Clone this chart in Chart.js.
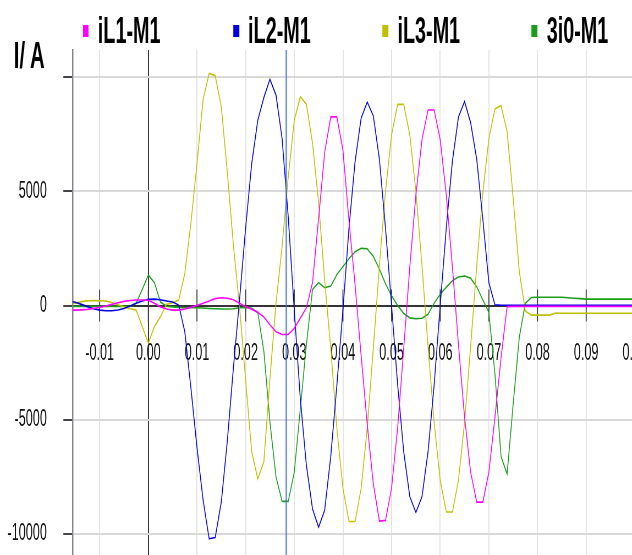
<!DOCTYPE html>
<html>
<head>
<meta charset="utf-8">
<script src="https://cdn.jsdelivr.net/npm/chart.js@4.4.1/dist/chart.umd.min.js"></script>
<style>
html,body{margin:0;padding:0;background:#fff;overflow:hidden;width:632px;height:555px;}
#wrap{position:absolute;left:0;top:0;width:1200px;height:555px;transform:scaleX(0.55);transform-origin:0 0;}
#c{position:absolute;left:0;top:0;}
.lgt{position:absolute;top:13px;font:bold 36px "Liberation Sans",Arial,sans-serif;line-height:36px;color:#000;white-space:nowrap;}
.lgs{position:absolute;top:25px;width:11px;height:12px;}
#unit{position:absolute;left:25px;top:37px;font:bold 37px "Liberation Sans",Arial,sans-serif;line-height:37px;color:#000;white-space:nowrap;}
</style>
</head>
<body>
<div id="wrap">
  <canvas id="c" width="1200" height="555"></canvas>
  <div id="unit"></div>
</div>
<script>
// sample times (s)
const timeS = [-0.01625,-0.015,-0.01375,-0.0125,-0.01125,-0.01,-0.00875,-0.0075,-0.00625,-0.005,-0.00375,-0.0025,-0.00125,0,
0.00125,0.0025,0.00375,0.005,0.00625,0.0075,0.00875,0.01,0.01125,0.0125,
0.01375,0.015,0.01625,0.0175,0.01875,0.02,0.02125,0.0225,0.02375,0.025,
0.02625,0.0275,0.02875,0.03,0.03125,0.0325,0.03375,0.035,0.03625,0.0375,
0.03875,0.04,0.04125,0.0425,0.04375,0.045,0.04625,0.0475,0.04875,0.05,
0.05125,0.0525,0.05375,0.055,0.05625,0.0575,0.05875,0.06,0.06125,0.0625,
0.06375,0.065,0.06625,0.0675,0.06875,0.07,0.07125,0.0725,0.07375,0.075,
0.07625,0.0775,0.07875,0.08,0.08125,0.0825,0.08375,0.085,0.08625,0.0875,
0.08875,0.09,0.09125,0.0925,0.09375,0.095,0.09625,0.0975,0.09875,0.1,
0.10125,0.1025,0.10375,0.105];

// iL1-M1 (A)
const iL1 = [-200,-200,-190,-170,-130,-80,-20,50,120,180,220,240,240,230,
100,-60,-150,-200,-200,-150,-80,0,100,200,
300,340,320,250,100,-50,-160,-300,-500,-850,
-1150,-1270,-1270,-1000,-550,-100,1000,3800,6700,8250,
8250,6800,3700,900,-2200,-5200,-7800,-9430,-9400,-7990,
-5340,-1870,1700,4840,7250,8550,8550,7250,4840,1700,
-1710,-4870,-7290,-8600,-8600,-7300,-4900,-2300,-50,-40,
-40,-40,-40,-40,-40,-40,-40,-40,-40,-40,
-40,-40,-40,-40,-40,-40,-40,-40,-40,-40,
-40,-40,-40,-40];

// iL2-M1 (A)
const iL2 = [200,140,50,-50,-140,-200,-230,-230,-200,-130,-20,100,200,270,
280,250,200,150,20,-1150,-3600,-6200,-8500,-10200,
-10150,-8600,-5900,-2700,250,3400,6200,8100,9100,9900,
9200,7300,3900,-200,-4100,-7000,-8900,-9700,-8950,-6600,
-3500,-200,3400,6300,8200,8900,8300,6400,3400,0,
-3470,-6400,-8360,-9050,-8360,-6400,-3470,0,3410,6310,
8240,8920,8000,6400,3800,1000,30,10,10,10,
10,10,10,10,10,10,10,10,10,10,
10,10,10,10,10,10,10,10,10,10,
10,10,10,10];

// iL3-M1 (A)
const iL3 = [80,100,170,210,220,210,200,130,30,-60,-140,-200,-920,-1650,
-920,-490,60,120,240,1400,3600,6200,9000,10150,
10050,8700,5800,2600,-50,-3260,-6390,-7590,-6830,-3200,
100,2600,5600,8100,9130,8800,7100,4500,1100,-1880,
-5350,-8000,-9450,-9450,-8000,-5350,-1880,1750,4990,7460,
8800,8800,7460,4990,1750,-1800,-5110,-7650,-9030,-9030,
-7650,-5110,-1800,1720,4900,7300,8600,8750,7600,4700,
1500,-250,-420,-420,-420,-420,-330,-340,-340,-340,
-340,-340,-340,-340,-340,-340,-340,-340,-340,-340,
-340,-340,-340,-340];

// 3i0-M1 (A)
const i3o = [-40,-40,-40,-40,-40,-40,-40,-40,-40,-40,-40,100,700,1330,
1000,150,-30,-60,-80,-100,-100,-100,-110,-130,
-140,-150,-150,-140,-100,-80,-120,-300,-2000,-5100,
-7500,-8570,-8570,-7300,-4500,-1700,700,1000,780,850,
1350,1700,2050,2350,2500,2480,2150,1600,950,430,
0,-350,-540,-580,-560,-380,100,500,800,1080,
1250,1290,1190,820,250,-300,-3000,-6600,-7370,-4300,
-1400,100,350,360,360,360,360,360,340,320,
300,280,280,280,280,280,280,280,280,280,
280,280,280,280];

const seriesNames = ['iL1-M1','iL2-M1','iL3-M1','3i0-M1'];
const seriesColors = ['#ff00ff','#0000e6','#c0c000','#1a9e1a'];
const xTickValues = [-0.01,0,0.01,0.02,0.03,0.04,0.05,0.06,0.07,0.08,0.09,0.10];
const xTickLabels = ['-0.01','0.00','0.01','0.02','0.03','0.04','0.05','0.06','0.07','0.08','0.09','0.10'];
const yTickValues = [-10000,-5000,0,5000,10000];
const yTickLabels = ['-10000','-5000','0','5000',''];
const cursorTime = 0.02834;
const yUnit = 'I/ A';

// legend (HTML text)
const wrap = document.getElementById('wrap');
const lgX = [150.4, 423.6, 695.1, 966.4];
seriesNames.forEach((n, i) => {
  const s = document.createElement('div');
  s.className = 'lgs'; s.style.left = lgX[i] + 'px'; s.style.background = seriesColors[i];
  wrap.appendChild(s);
  const t = document.createElement('div');
  t.className = 'lgt'; t.style.left = (lgX[i] + 27.5) + 'px'; t.textContent = n;
  wrap.appendChild(t);
});
document.getElementById('unit').textContent = yUnit;

const decor = {
  id: 'decor',
  beforeDatasetsDraw(chart) {
    const {ctx, scales: {x, y}} = chart;
    const y0 = y.getPixelForValue(0);
    ctx.save();
    ctx.strokeStyle = '#3a3a3a';
    ctx.lineWidth = 1.8;
    xTickValues.forEach(v => {
      const px = x.getPixelForValue(v);
      ctx.beginPath(); ctx.moveTo(px, y0 - 16); ctx.lineTo(px, y0 + 16); ctx.stroke();
    });
    ctx.restore();
  },
  afterDatasetsDraw(chart) {
    const {ctx, chartArea, scales: {x}} = chart;
    const px = x.getPixelForValue(cursorTime);
    ctx.save();
    ctx.strokeStyle = '#3c6cff';
    ctx.lineWidth = 2;
    ctx.beginPath(); ctx.moveTo(px, chartArea.top); ctx.lineTo(px, chartArea.bottom); ctx.stroke();
    ctx.restore();
  }
};

const toPts = arr => arr.map((v, i) => ({x: timeS[i], y: v}));

new Chart(document.getElementById('c'), {
  type: 'line',
  data: {
    datasets: [iL1, iL2, iL3, i3o].map((arr, i) => ({
      label: seriesNames[i], data: toPts(arr),
      borderColor: seriesColors[i], backgroundColor: seriesColors[i],
      borderWidth: 1.6, pointRadius: 0, tension: 0, fill: false
    }))
  },
  options: {
    responsive: false, animation: false, devicePixelRatio: 1,
    layout: {padding: {top: 50, left: 0, right: 0, bottom: 0}},
    plugins: {legend: {display: false}, tooltip: {enabled: false}},
    scales: {
      x: {
        type: 'linear', position: {y: 0}, bounds: 'data',
        min: -0.01554, max: 0.10518,
        afterBuildTicks: s => { s.ticks = xTickValues.map(v => ({value: v})); },
        afterFit: s => { s.paddingLeft = 0; s.paddingRight = 0; s.paddingTop = 0; s.paddingBottom = 0; },
        grid: {color: c => (c.tick && c.tick.value === 0) ? '#222' : '#e0e0e0', lineWidth: 1.8, drawTicks: false},
        border: {display: true, color: '#333', width: 2},
        ticks: {autoSkip: false, maxRotation: 0, padding: 34, color: '#111',
          font: {family: 'Liberation Sans', size: 23},
          callback: (v, i) => xTickLabels[i]}
      },
      y: {
        type: 'linear', bounds: 'data', min: -10914, max: 11177,
        afterBuildTicks: s => { s.ticks = yTickValues.map(v => ({value: v})); },
        afterFit: s => { s.width = 132.2; s.paddingTop = 0; s.paddingBottom = 0; },
        grid: {color: c => (c.tick && c.tick.value === 0) ? '#333' : '#d9d9d9', lineWidth: 2,
          tickLength: 17, tickColor: '#444', tickWidth: 2},
        border: {display: true, color: '#858590', width: 2.5},
        ticks: {padding: 30, color: '#111', font: {family: 'Liberation Sans', size: 23},
          callback: (v, i) => yTickLabels[i]}
      }
    }
  },
  plugins: [decor]
});
</script>
</body>
</html>
